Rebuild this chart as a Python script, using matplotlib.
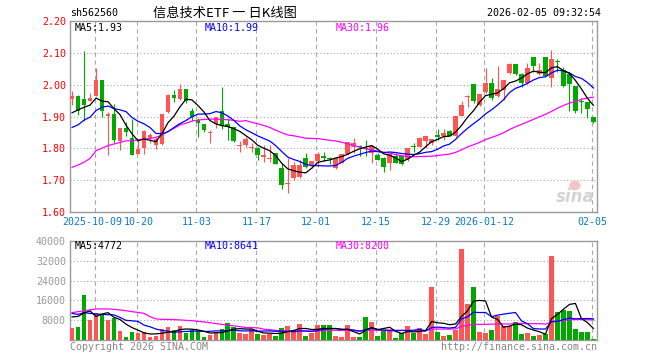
"""
信息技术ETF 日K线图 - 仿新浪财经样式
"""
import numpy as np
import pandas as pd
import matplotlib
matplotlib.use('Agg')
import matplotlib.pyplot as plt
from matplotlib.patches import Ellipse

# ---------------- 数据 ----------------
code = 'sh562560'
title = '信息技术ETF 一 日K线图'
stamp = '2026-02-05 09:32:54'

# 交易日（剔除国庆、元旦休市）
holidays = ['2025-10-01', '2025-10-02', '2025-10-03', '2025-10-06',
            '2025-10-07', '2025-10-08', '2026-01-01', '2026-01-02']
first_day, last_day = '2025-09-25', '2026-02-05'

tick_dates = ['2025-10-09', '2025-10-20', '2025-11-03', '2025-11-17', '2025-12-01',
              '2025-12-15', '2025-12-29', '2026-01-12', '2026-02-05']
tick_labels = ['2025-10-09', '10-20', '11-03', '11-17', '12-01',
               '12-15', '12-29', '2026-01-12', '02-05']

open_ = [1.956, 1.965, 1.954, 1.950, 1.965, 2.015, 1.902, 1.908, 1.824, 1.865,
         1.832, 1.783, 1.803, 1.832, 1.812, 1.813, 1.913, 1.968, 1.955, 1.987,
         1.918, 1.890, 1.876, 1.848, 1.876, 1.916, 1.876, 1.866, 1.807, 1.811,
         1.801, 1.801, 1.773, 1.767, 1.785, 1.739, 1.689, 1.706, 1.712, 1.769,
         1.748, 1.762, 1.776, 1.770, 1.738, 1.756, 1.782, 1.805, 1.808, 1.801,
         1.785, 1.779, 1.769, 1.754, 1.775, 1.775, 1.766, 1.808, 1.806, 1.824,
         1.818, 1.841, 1.839, 1.855, 1.839, 1.902, 1.961, 2.002, 1.935, 1.976,
         2.006, 1.963, 1.983, 2.036, 2.065, 2.033, 2.004, 2.086, 2.033, 2.086,
         2.022, 2.073, 2.046, 2.033, 1.996, 1.950, 1.947, 1.898]
high = [1.980, 1.967, 2.106, 1.973, 2.052, 2.015, 1.915, 1.940, 1.865, 1.883,
        1.892, 1.827, 1.858, 1.848, 1.835, 1.908, 1.972, 1.983, 2.001, 1.987,
        1.926, 1.897, 1.878, 1.858, 1.898, 1.994, 1.895, 1.868, 1.824, 1.837,
        1.816, 1.806, 1.811, 1.811, 1.787, 1.754, 1.769, 1.758, 1.764, 1.787,
        1.762, 1.790, 1.789, 1.772, 1.774, 1.782, 1.820, 1.832, 1.811, 1.827,
        1.811, 1.785, 1.774, 1.785, 1.785, 1.780, 1.802, 1.818, 1.837, 1.839,
        1.830, 1.861, 1.861, 1.858, 1.902, 1.950, 1.968, 2.002, 1.971, 2.053,
        2.022, 2.057, 2.015, 2.067, 2.065, 2.036, 2.067, 2.086, 2.067, 2.086,
        2.109, 2.080, 2.055, 2.033, 1.996, 1.957, 1.947, 1.898]
low = [1.936, 1.905, 1.887, 1.948, 1.963, 1.900, 1.780, 1.816, 1.795, 1.839,
       1.778, 1.782, 1.783, 1.816, 1.799, 1.811, 1.911, 1.947, 1.951, 1.942,
       1.887, 1.837, 1.852, 1.816, 1.865, 1.861, 1.827, 1.821, 1.790, 1.806,
       1.790, 1.764, 1.759, 1.759, 1.750, 1.672, 1.662, 1.701, 1.709, 1.738,
       1.739, 1.741, 1.762, 1.750, 1.735, 1.754, 1.781, 1.785, 1.777, 1.775,
       1.754, 1.764, 1.727, 1.733, 1.754, 1.749, 1.762, 1.788, 1.806, 1.801,
       1.810, 1.827, 1.827, 1.839, 1.837, 1.902, 1.931, 1.942, 1.933, 1.975,
       1.952, 1.960, 1.952, 2.034, 2.031, 1.992, 2.002, 2.041, 2.031, 2.026,
       1.994, 2.041, 1.992, 1.918, 1.912, 1.912, 1.895, 1.879]
close = [1.965, 1.916, 1.936, 1.958, 2.015, 1.916, 1.907, 1.826, 1.865, 1.851,
         1.780, 1.799, 1.856, 1.841, 1.830, 1.908, 1.968, 1.959, 1.987, 1.949,
         1.898, 1.880, 1.858, 1.852, 1.898, 1.869, 1.866, 1.824, 1.811, 1.830,
         1.804, 1.780, 1.778, 1.771, 1.752, 1.686, 1.693, 1.749, 1.749, 1.741,
         1.760, 1.783, 1.771, 1.766, 1.771, 1.782, 1.820, 1.817, 1.805, 1.797,
         1.807, 1.764, 1.743, 1.783, 1.754, 1.751, 1.802, 1.804, 1.832, 1.839,
         1.830, 1.837, 1.848, 1.839, 1.902, 1.936, 1.965, 1.950, 1.971, 2.006,
         1.957, 1.986, 2.015, 2.065, 2.033, 2.004, 2.053, 2.057, 2.046, 2.028,
         2.080, 2.070, 1.996, 2.002, 1.918, 1.947, 1.924, 1.884]
volume = [5100, 5400, 18200, 8200, 10800, 10200, 8200, 8800, 3700, 1500,
          3300, 3100, 3300, 1500, 1700, 4500, 5400, 4100, 5800, 2900,
          4100, 3900, 1500, 2100, 3500, 4500, 7000, 5500, 2900, 2700,
          4500, 2500, 2000, 2700, 1900, 5100, 5800, 4300, 6600, 1900,
          3100, 6200, 6200, 6200, 1900, 1500, 6200, 1500, 1500, 9400,
          7400, 1700, 3700, 4000, 1100, 3100, 5800, 2900, 4900, 2700,
          21300, 3500, 1700, 2100, 4300, 36500, 14500, 21300, 3500, 3100,
          4300, 9800, 5600, 5600, 7500, 2700, 3100, 1700, 2100, 2600,
          34000, 11500, 12200, 11700, 4700, 3500, 3500, 460]

# 图上标注的最新均线值
price_ma_last = ['1.93', '1.99', '1.96']
vol_ma_last = ['4772', '8641', '8200']

# 均线前段（窗口之前的历史看不到，直接读图）
ma5_head = [1.912, 1.921, 1.929, 1.936]
ma10_head = [1.866, 1.874, 1.889, 1.898, 1.919, 1.929, 1.933, 1.925, 1.921]
ma30_head = [1.741, 1.748, 1.757, 1.769, 1.793, 1.801, 1.809, 1.814, 1.819, 1.824,
             1.824, 1.827, 1.829, 1.831, 1.835, 1.842, 1.853, 1.863, 1.874, 1.879,
             1.886, 1.889, 1.891, 1.892, 1.892, 1.891, 1.890, 1.888, 1.885]
vol_ma5_head = [9400, 9600, 11000, 11800]
vol_ma10_head = [10800, 10400, 11100, 10800, 10600, 10400, 10300, 10200, 9200]
vol_ma30_head = [11100, 11500, 11900, 12200, 12600, 12600, 12600, 12400, 12200, 11900,
                 11500, 11200, 10800, 9500, 8600, 8400, 8400, 8300, 8200, 8000,
                 7900, 7600, 7400, 7100, 6700, 6400, 6100, 5800, 5500]

# ---------------- 样式 ----------------
RED = '#ff5555'
GREEN = '#00a800'
FRAME = '#999999'
GRID = '#aaaaaa'
MONO = ['DejaVu Sans Mono']
W, H = 660, 360


def moving_avg(values, n, head):
    s = pd.Series(values, dtype=float).rolling(n).mean().to_numpy()
    s[:n - 1] = head
    return s


def style_axes(a):
    for sp in a.spines.values():
        sp.set_color(FRAME)
        sp.set_linewidth(1.0)
    a.tick_params(length=0)
    for t in a.get_yticklabels():
        t.set_family(MONO)


def ma_labels(y, values):
    # 左上角 MA5 / MA10 / MA30 数值
    for xp, name, val, col in zip([75, 205, 336], ['MA5', 'MA10', 'MA30'], values,
                                  ['black', '#0000ff', '#ff00ff']):
        fig.text(xp / W, 1 - y / H, f'{name}:{val}', fontsize=7.2, family=MONO,
                 color=col, va='center')


days = pd.bdate_range(first_day, last_day)
days = days[~days.isin(pd.to_datetime(holidays))]
x = np.arange(len(days))
tick_pos = days.get_indexer(pd.to_datetime(tick_dates)) - 0.25

o, h, l, c = map(np.asarray, (open_, high, low, close))
up = c >= o
colors = np.where(up, RED, GREEN)

fig = plt.figure(figsize=(W / 100, H / 100), dpi=100)
ax = fig.add_axes([70 / W, 1 - 212.3 / H, 527 / W, 191.5 / H])
axv = fig.add_axes([70 / W, 1 - 340.3 / H, 527 / W, 99.6 / H])

# K线
ax.vlines(x, l, h, colors=colors, linewidth=0.8, zorder=3)
body = np.maximum(np.abs(c - o), 0.003)
ax.bar(x, body, bottom=np.minimum(o, c), width=0.8, color=colors,
       linewidth=0, zorder=4)

ma5 = moving_avg(c, 5, ma5_head)
ma10 = moving_avg(c, 10, ma10_head)
ma30 = moving_avg(c, 30, ma30_head)
ax.plot(x, ma30, color='#ff00ff', lw=0.9, zorder=5)
ax.plot(x, ma10, color='#0000ff', lw=0.9, zorder=5)
ax.plot(x, ma5, color='black', lw=0.9, zorder=5)

xlim = (-0.35, len(days) - 1 + 0.6)
ax.set_xlim(*xlim)
ax.set_ylim(1.60, 2.20)
yt = np.arange(1.60, 2.201, 0.10)
ax.set_yticks(yt)
ax.set_yticklabels([f'{v:.2f}' for v in yt], color='#ff0000', fontsize=7.2)
ax.tick_params(axis='y', pad=3)
ax.set_xticks([])
# 日期标签；前两个挨得太近，左右各让一点
nudge = np.zeros(len(tick_pos))
nudge[0], nudge[1] = -0.42, 0.42
for xv, dx, lab in zip(tick_pos, nudge, tick_labels):
    ax.text(xv + dx, -0.05, lab, transform=ax.get_xaxis_transform(),
            ha='center', va='center', fontsize=7.2, family=MONO, color='#0a78c8')
for yv in yt[1:-1]:
    ax.axhline(yv, color=GRID, lw=0.8, ls=(0, (1, 2)), zorder=1)
for xv in tick_pos:
    ax.axvline(xv, color=GRID, lw=0.8, ls=(0, (4, 3)), zorder=1)
style_axes(ax)

# 右下角 sina 水印
ax.text(0.995, 0.035, 'sina', transform=ax.transAxes, ha='right', va='bottom',
        fontsize=12, fontweight='bold', style='italic', color='#d4d4d4', zorder=2)
ax.add_patch(Ellipse((0.958, 0.14), 0.022, 0.05, transform=ax.transAxes,
                     facecolor='#f6c4c4', edgecolor='none', zorder=2))

# 成交量
axv.bar(x, volume, width=0.8, color=colors, linewidth=0, zorder=3)
vma5 = moving_avg(volume, 5, vol_ma5_head)
vma10 = moving_avg(volume, 10, vol_ma10_head)
vma30 = moving_avg(volume, 30, vol_ma30_head)
axv.plot(x, vma30, color='#ff00ff', lw=0.9, zorder=5)
axv.plot(x, vma10, color='#0000ff', lw=0.9, zorder=5)
axv.plot(x, vma5, color='black', lw=0.9, zorder=5)
axv.set_xlim(*xlim)
axv.set_ylim(0, 40000)
vt = [8000, 16000, 24000, 32000, 40000]
axv.set_yticks(vt)
axv.set_yticklabels([str(v) for v in vt], color=FRAME, fontsize=7.2)
axv.tick_params(axis='y', pad=3)
axv.set_xticks([])
for yv in vt[:-1]:
    axv.axhline(yv, color=GRID, lw=0.8, ls=(0, (1, 2)), zorder=1)
for xv in tick_pos:
    axv.axvline(xv, color=GRID, lw=0.8, ls=(0, (4, 3)), zorder=1)
style_axes(axv)

# 文字
fig.text(70 / W, 1 - 13 / H, code, fontsize=7.2, family=MONO, va='center')
fig.text(225 / W, 1 - 13 / H, title, fontsize=9.5,
         family=['Noto Sans CJK SC', 'DejaVu Sans'], ha='center', va='center')
fig.text(601 / W, 1 - 13 / H, stamp, fontsize=7.2, family=MONO, ha='right', va='center')

ma_labels(28, price_ma_last)
ma_labels(246, vol_ma_last)

fig.text(70 / W, 1 - 347 / H, 'Copyright 2026 SINA.COM', fontsize=7.2, family=MONO,
         color='#888888', va='center')
fig.text(597 / W, 1 - 347 / H, 'http://finance.sina.com.cn', fontsize=7.2,
         family=MONO, color='#888888', ha='right', va='center')

fig.savefig('out.png', dpi=100, facecolor='white')
plt.close(fig)
